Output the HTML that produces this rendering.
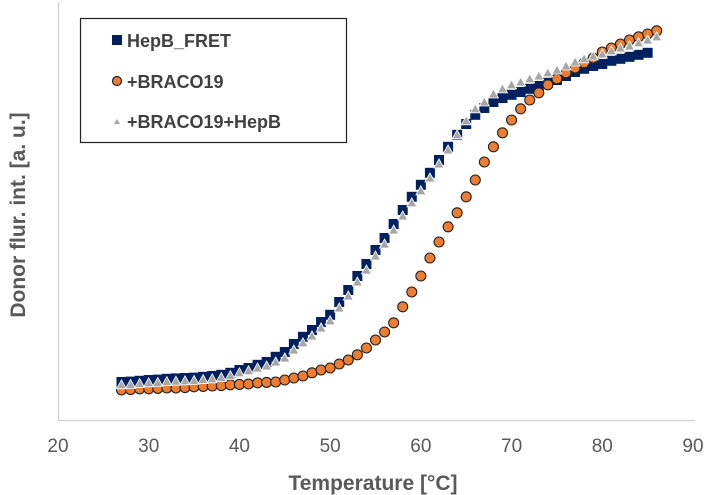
<!DOCTYPE html>
<html><head><meta charset="utf-8"><style>
html,body{margin:0;padding:0;background:#fff;}
svg{display:block;font-family:"Liberation Sans",Arial,sans-serif;}
</style></head><body>
<svg id="chart" width="708" height="495" viewBox="0 0 708 495" xmlns="http://www.w3.org/2000/svg">
<line x1="58.5" y1="2" x2="58.5" y2="420" stroke="#d0d0d0" stroke-width="1.3"/>
<line x1="58" y1="420.5" x2="695" y2="420.5" stroke="#d0d0d0" stroke-width="1.3"/>
<g id="xticks"></g>
<text x="373" y="490" text-anchor="middle" font-size="21" font-weight="bold" fill="#595959">Temperature [°C]</text>
<text transform="translate(25,215) rotate(-90)" text-anchor="middle" font-size="21" font-weight="bold" fill="#595959">Donor flur. int. [a. u.]</text>
<g id="series-blue"></g>
<g id="series-orange"></g>
<g id="series-grey"></g>
<g>
<rect x="80.5" y="18.5" width="266" height="124" fill="#fff" stroke="#222" stroke-width="1.2"/>
<rect x="112" y="35" width="10" height="10" fill="#002060"/>
<text x="127" y="47" font-size="18" font-weight="bold" fill="#404040">HepB_FRET</text>
<circle cx="117" cy="81" r="4.5" fill="#ed7d31" stroke="#222" stroke-width="1.2"/>
<text x="127" y="88" font-size="18" font-weight="bold" fill="#404040">+BRACO19</text>
<polygon points="117,119 120,124 114,124" fill="#a6a6a6"/>
<text x="127" y="128" font-size="18" font-weight="bold" fill="#404040">+BRACO19+HepB</text>
</g>
</svg>
<script>
const xTicks = [20,30,40,50,60,70,80,90];
const blueT = [27,28,29,30,31,32,33,34,35,36,37,38,39,40,41,42,43,44,45,46,47,48,49,50,51,52,53,54,55,56,57,58,59,60,61,62,63,64,65,66,67,68,69,70,71,72,73,74,75,76,77,78,79,80,81,82,83,84,85];
const blueV = [9.5,9.6,9.8,10,10.1,10.3,10.4,10.5,10.6,10.8,11,11.3,11.8,12.5,13,13.8,14.5,15.8,17,19,20.8,22.5,24.5,26.3,29.5,32.5,36,39,42.5,45.5,49,52.5,55.8,58.8,61.8,65,68.3,71.3,74,76.3,78,79.5,80.5,81.3,82,82.8,83.5,84.3,85,86,87,87.8,88.5,89,89.8,90.3,90.8,91.3,91.8];
const greyT = [27,28,29,30,31,32,33,34,35,36,37,38,39,40,41,42,43,44,45,46,47,48,49,50,51,52,53,54,55,56,57,58,59,60,61,62,63,64,65,66,67,68,69,70,71,72,73,74,75,76,77,78,79,80,81,82,83,84,85,86];
const greyV = [8.8,8.9,9.1,9.3,9.4,9.6,9.7,9.8,9.9,10.1,10.3,10.6,11.1,11.8,12.3,13,13.5,14.5,15.5,17.5,19.3,21,23,24.8,28,31,34.5,37.5,41,44,47.5,51,54.3,57.3,60.5,64,67.5,71.3,74.8,77.8,79.5,81.5,82.8,83.8,84.5,85.3,86,86.8,87.5,88.5,89.5,90.3,91,91.5,92.3,93,93.5,94.3,95,95.8];
const orangeT = [27,28,29,30,31,32,33,34,35,36,37,38,39,40,41,42,43,44,45,46,47,48,49,50,51,52,53,54,55,56,57,58,59,60,61,62,63,64,65,66,67,68,69,70,71,72,73,74,75,76,77,78,79,80,81,82,83,84,85,86];
const orangeV = [7.5,7.6,7.8,7.8,7.9,8,8,8.1,8.3,8.4,8.5,8.6,8.8,8.9,9,9.3,9.4,9.5,10,10.5,11,11.8,12.5,13,14,15,16.3,18,20,22,24.3,28.3,32,36,40.5,44.5,48.3,51.8,55.8,60,64.5,68.3,71.8,75,77.8,80,81.8,83.8,85.3,86.8,88,89.3,90.5,92,93,94,95,95.8,96.5,97.3];

const NS = "http://www.w3.org/2000/svg";
function xs(t){ return 58 + (t - 20) * (693 - 58) / 70; }
function ys(v){ return 420 - v * 4; }

const gx = document.getElementById('xticks');
xTicks.forEach(t => {
  const el = document.createElementNS(NS, 'text');
  el.setAttribute('x', xs(t)); el.setAttribute('y', 452);
  el.setAttribute('text-anchor', 'middle'); el.setAttribute('font-size', '19');
  el.setAttribute('fill', '#595959');
  
  
  el.textContent = t;
  gx.appendChild(el);
});

const gb = document.getElementById('series-blue');
blueT.forEach((t, i) => {
  const el = document.createElementNS(NS, 'rect');
  el.setAttribute('x', xs(t) - 5); el.setAttribute('y', ys(blueV[i]) - 5);
  el.setAttribute('width', 10); el.setAttribute('height', 10);
  el.setAttribute('fill', '#002060');
  
  
  gb.appendChild(el);
});

const go = document.getElementById('series-orange');
orangeT.forEach((t, i) => {
  const el = document.createElementNS(NS, 'circle');
  el.setAttribute('cx', xs(t)); el.setAttribute('cy', ys(orangeV[i]));
  el.setAttribute('r', 5); el.setAttribute('fill', '#ed7d31');
  el.setAttribute('stroke', '#222'); el.setAttribute('stroke-width', '1.1');
  
  
  go.appendChild(el);
});

const gg = document.getElementById('series-grey');
greyT.forEach((t, i) => {
  const cx = xs(t), cy = ys(greyV[i]);
  const el = document.createElementNS(NS, 'polygon');
  el.setAttribute('points', `${cx},${cy-5} ${cx+5},${cy+4} ${cx-5},${cy+4}`);
  el.setAttribute('fill', '#a6a6a6'); el.setAttribute('stroke', '#fff'); el.setAttribute('stroke-width', '0.8');
  
  
  gg.appendChild(el);
});
</script>
</body></html>
